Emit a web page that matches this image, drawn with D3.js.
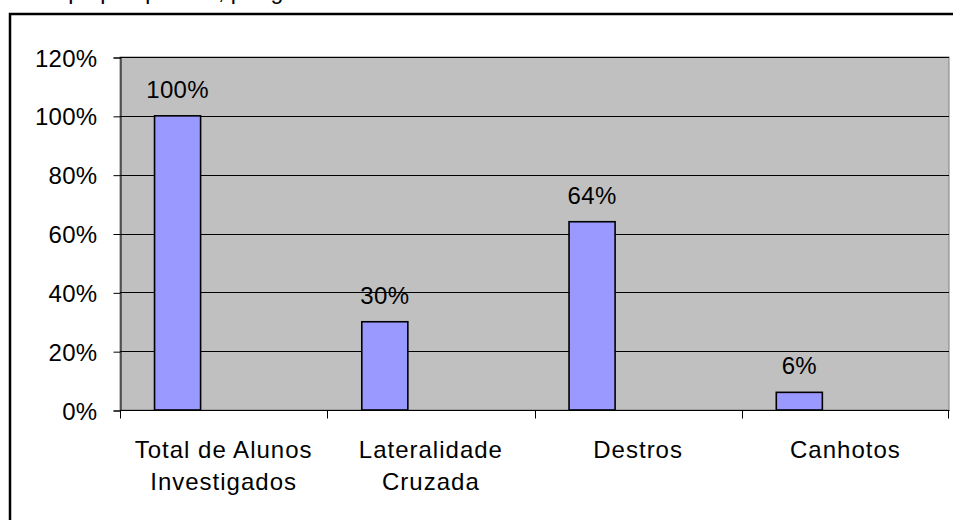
<script src="https://d3js.org/d3.v7.min.js"></script>
<style>
  body { margin: 0; background: #fff; }
  svg text { font-family: "Liberation Sans", Arial, sans-serif; fill: #000; }
</style>
<div id="chart"></div>
<script>
  // chart values
  const categories = [["Total de Alunos", "Investigados"], ["Lateralidade", "Cruzada"], ["Destros"], ["Canhotos"]];
  const values = [100, 30, 64, 6];
  const yTicks = [0, 20, 40, 60, 80, 100, 120];
  // Excel leaves room for 3 bars in each group, only the first is used
  const slots = ["s1", "s2", "s3"];

  const width = 953;
  const height = 520;
  const plot = {left: 120, right: 949, top: 57, bottom: 410};

  const svg = d3.select("#chart")
    .append("svg")
    .attr("width", width)
    .attr("height", height);

  // title, cut off by the top of the picture
  svg.append("text")
    .attr("x", 30)
    .attr("y", -1)
    .style("font-size", "23px")
    .text("Grupo pesquisado, por gênero");

  // outer frame
  svg.append("rect")
    .attr("x", 10)
    .attr("y", 14)
    .attr("width", 960)
    .attr("height", 540)
    .attr("fill", "none")
    .attr("stroke", "#000")
    .attr("stroke-width", 2.5);

  const keys = categories.map(d => d.join(" "));

  const x = d3.scaleBand()
    .domain(keys)
    .range([plot.left, plot.right])
    .padding(0);

  const xSlot = d3.scaleBand()
    .domain(slots)
    .range([0, x.bandwidth()])
    .paddingInner(0)
    .paddingOuter(0.75);

  const y = d3.scaleLinear()
    .domain([0, 120])
    .range([plot.bottom, plot.top]);

  // plot area
  svg.append("rect")
    .attr("x", plot.left)
    .attr("y", plot.top)
    .attr("width", plot.right - plot.left)
    .attr("height", plot.bottom - plot.top)
    .attr("fill", "#c0c0c0")
    .attr("stroke", "#808080")
    .attr("stroke-width", 1);

  // gridlines
  svg.append("g")
    .selectAll("line")
    .data(yTicks.filter(d => d > 0))
    .enter().append("line")
    .attr("x1", plot.left)
    .attr("x2", plot.right)
    .attr("y1", d => Math.round(y(d)) + 0.5)
    .attr("y2", d => Math.round(y(d)) + 0.5)
    .attr("stroke", "#000")
    .attr("stroke-width", 1);

  // y axis
  const yAxis = svg.append("g")
    .attr("transform", `translate(${plot.left + 0.5},0.5)`)
    .call(d3.axisLeft(y)
      .tickValues(yTicks)
      .tickSize(7)
      .tickPadding(16)
      .tickFormat(d => d + "%"));
  yAxis.select(".domain").attr("stroke", "#000");
  yAxis.selectAll("text")
    .style("font-size", "24px")
    .style("letter-spacing", "0.3px")
    .attr("dy", "0.36em");

  // x axis
  const xAxis = svg.append("g")
    .attr("transform", `translate(0.5,${plot.bottom + 0.5})`);
  xAxis.append("line")
    .attr("x1", plot.left)
    .attr("x2", plot.right)
    .attr("stroke", "#000");
  xAxis.selectAll(".tick")
    .data(keys.concat(["end"]))
    .enter().append("line")
    .attr("class", "tick")
    .attr("x1", (d, i) => i < keys.length ? Math.round(x(d)) : plot.right - 1)
    .attr("x2", (d, i) => i < keys.length ? Math.round(x(d)) : plot.right - 1)
    .attr("y1", 0)
    .attr("y2", 8)
    .attr("stroke", "#000");

  const catLabels = svg.append("g")
    .selectAll("text")
    .data(categories)
    .enter().append("text")
    .attr("text-anchor", "middle")
    .attr("x", (d, i) => x(keys[i]) + x.bandwidth() / 2)
    .attr("y", 458)
    .style("font-size", "24px")
    .style("letter-spacing", "1px");
  catLabels.selectAll("tspan")
    .data(d => d)
    .enter().append("tspan")
    .attr("x", function () { return d3.select(this.parentNode).attr("x"); })
    .attr("dy", (d, i) => i === 0 ? 0 : 32)
    .text(d => d);

  // bars
  svg.append("g")
    .selectAll("rect")
    .data(values)
    .enter().append("rect")
    .attr("x", (d, i) => x(keys[i]) + xSlot("s1"))
    .attr("y", d => y(d))
    .attr("width", xSlot.bandwidth())
    .attr("height", d => y(0) - y(d))
    .attr("fill", "#9999ff")
    .attr("stroke", "#000")
    .attr("stroke-width", 1.6);

  // value labels
  svg.append("g")
    .selectAll("text")
    .data(values)
    .enter().append("text")
    .attr("text-anchor", "middle")
    .attr("x", (d, i) => x(keys[i]) + xSlot("s1") + xSlot.bandwidth() / 2)
    .attr("y", d => y(d) - 18)
    .style("font-size", "24px")
    .style("letter-spacing", "0.3px")
    .text(d => d + "%");
</script>
